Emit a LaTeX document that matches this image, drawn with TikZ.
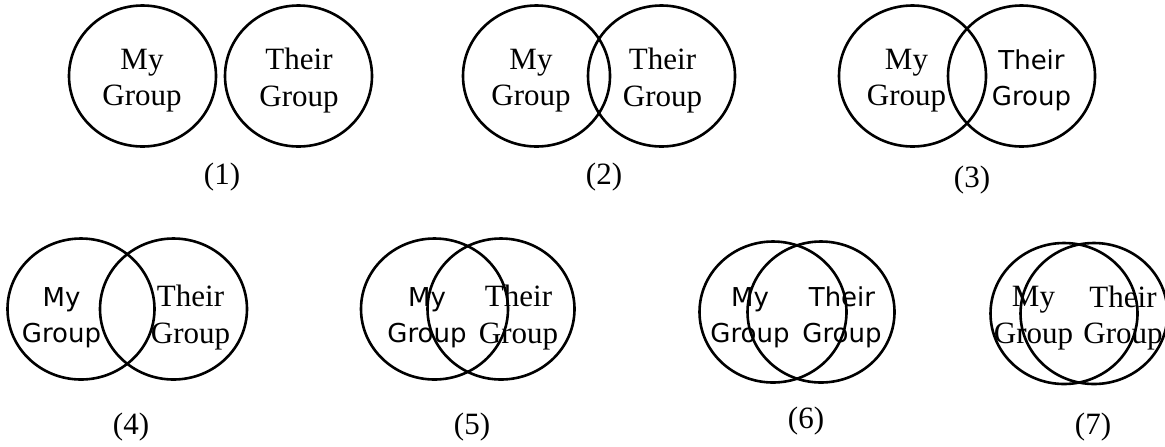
\documentclass[tikz,border=0pt]{standalone}
\usepackage{fontspec}
\setmainfont{Liberation Serif}
\newfontfamily\grpsansfont{DejaVu Sans}
\usetikzlibrary{shapes.geometric}
\newcommand{\grprm}{\fontsize{15.5pt}{18.25pt}\selectfont}
\newcommand{\grpsf}{\grpsansfont\fontsize{13pt}{18.25pt}\selectfont}

\begin{document}
\begin{tikzpicture}[x=0.5pt, y=-0.5pt,
    ring/.style={draw, ellipse, line width=1.3pt, minimum width=73.5pt, minimum height=70.5pt, inner sep=0pt},
    rm/.style={align=center, font=\grprm, inner sep=0pt},
    sf/.style={align=center, font=\grpsf, inner sep=0pt},
    tag/.style={font=\grprm, inner sep=0pt}]
    \useasboundingbox (0,0) rectangle (1165,446);

    \node[ring] (my1) at (142.5,76) {};
    \node[ring] (their1) at (298.5,76) {};
    \node[rm] (mytext1) at (142,80.5) {My\\Group};
    \node[rm] (theirtext1) at (299,80.5) {Their\\Group};
    \node[tag] (tag1) at (222,177) {(1)};

    \node[ring] (my2) at (536.5,76) {};
    \node[ring] (their2) at (661.5,76) {};
    \node[rm] (mytext2) at (531,80.5) {My\\Group};
    \node[rm] (theirtext2) at (662.5,80.5) {Their\\Group};
    \node[tag] (tag2) at (604,177) {(2)};

    \node[ring] (my3) at (912.5,76) {};
    \node[ring] (their3) at (1021.5,76) {};
    \node[rm] (mytext3) at (906.5,80.5) {My\\Group};
    \node[sf] (theirtext3) at (1031.5,80.5) {Their\\Group};
    \node[tag] (tag3) at (972,180) {(3)};

    \node[ring] (my4) at (81,309) {};
    \node[ring] (their4) at (173.5,309) {};
    \node[sf] (mytext4) at (61.5,317.5) {My\\Group};
    \node[rm] (theirtext4) at (190.5,317.5) {Their\\Group};
    \node[tag] (tag4) at (131,427) {(4)};

    \node[ring] (my5) at (434.5,309) {};
    \node[ring] (their5) at (501,309) {};
    \node[sf] (mytext5) at (427,317.5) {My\\Group};
    \node[rm] (theirtext5) at (518.5,317.5) {Their\\Group};
    \node[tag] (tag5) at (472,427) {(5)};

    \node[ring] (my6) at (773,312) {};
    \node[ring] (their6) at (821,312) {};
    \node[sf] (mytext6) at (750,317.5) {My\\Group};
    \node[sf] (theirtext6) at (842,317.5) {Their\\Group};
    \node[tag] (tag6) at (806,421) {(6)};

    \node[ring] (my7) at (1064,313.5) {};
    \node[ring] (their7) at (1094,313.5) {};
    \node[rm] (mytext7) at (1033.5,318) {My\\Group};
    \node[rm] (theirtext7) at (1123,318) {Their\\Group};
    \node[tag] (tag7) at (1093,427) {(7)};
\end{tikzpicture}
\end{document}
